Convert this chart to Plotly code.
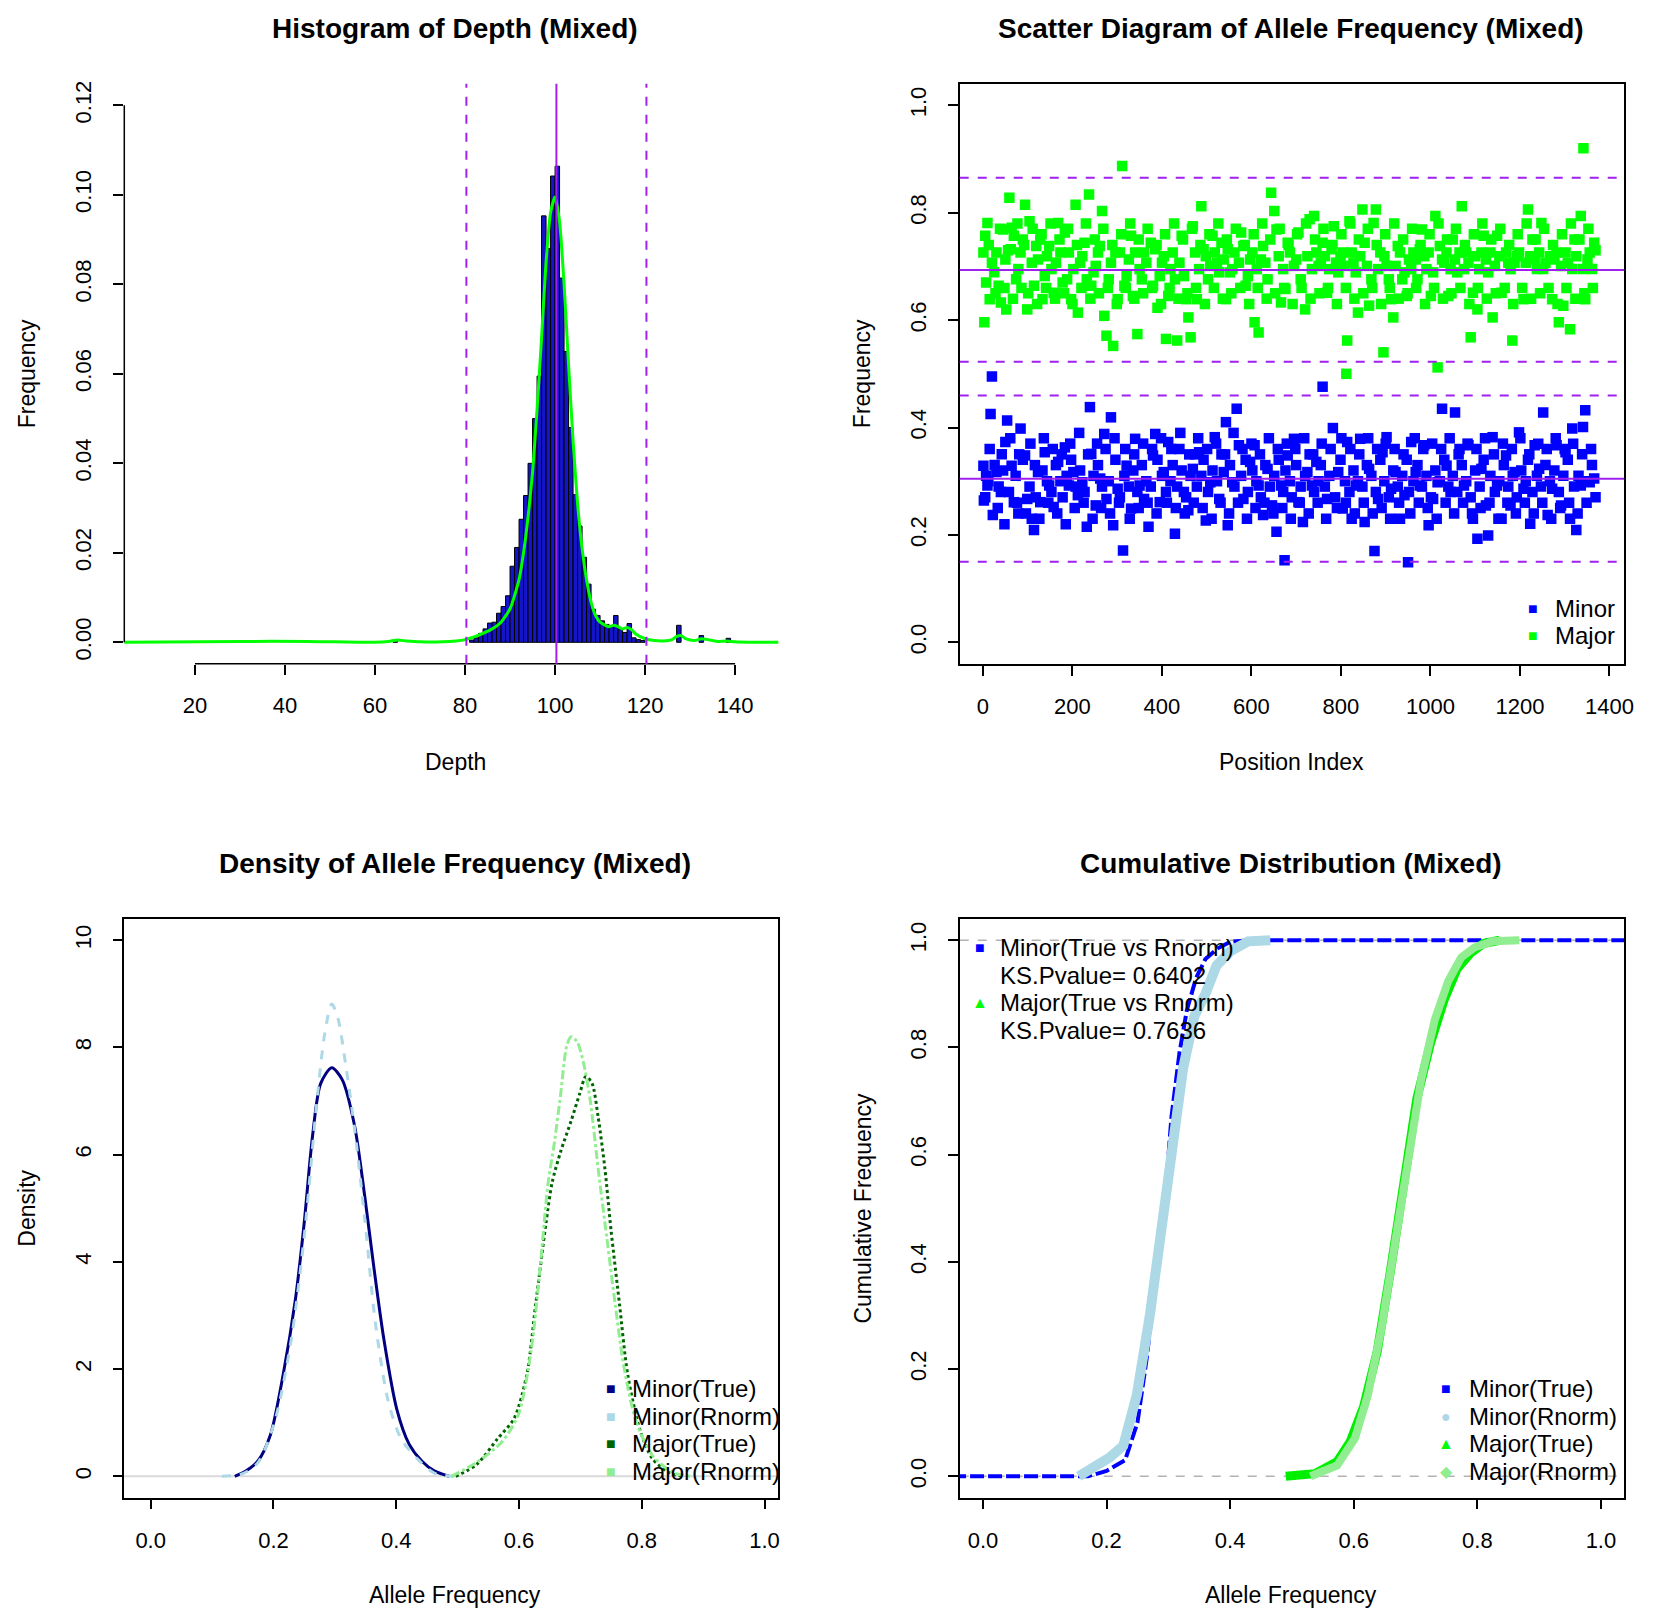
import plotly.graph_objects as go

W, H = 1654, 1620
OFF = 8  # page body margin of the written html
FONT = "Liberation Sans, Arial, Helvetica, sans-serif"
PURPLE = "#A020F0"

# ---------------- Histogram of Depth ----------------
depth_bin_left = [64, 81, 82, 83, 84, 85, 86, 87, 88, 89, 90, 91, 92, 93, 94, 95, 96, 97, 98, 99,
                  100, 101, 102, 103, 104, 105, 106, 107, 108, 109, 110, 111, 112, 113, 114, 115,
                  116, 117, 118, 119, 127, 132, 138]
depth_bin_freq = [0.0006, 0.0005, 0.001, 0.002, 0.003, 0.0043, 0.0045, 0.0065, 0.008, 0.0104,
                  0.017, 0.0212, 0.0275, 0.0328, 0.040, 0.050, 0.0595, 0.0953, 0.088, 0.1042,
                  0.1064, 0.0814, 0.065, 0.048, 0.033, 0.026, 0.019, 0.013, 0.0074, 0.006,
                  0.0048, 0.004, 0.0035, 0.006, 0.003, 0.0022, 0.0042, 0.001, 0.0006, 0.0004,
                  0.0038, 0.0015, 0.0009]
depth_dens_x = [4, 30, 45, 60, 63, 65, 67, 70, 75, 78, 80, 82, 84, 86, 88, 90, 92, 93, 94, 95,
                96, 97, 98, 99, 100, 101, 102, 103, 104, 105, 106, 107, 108, 109, 110, 112, 113,
                114, 115, 116, 117, 118, 120, 122, 124, 126, 127, 128, 129, 131, 132.5, 134, 136,
                138, 140, 143, 153]
depth_dens_y = [0, 0.0002, 0.0002, 0, 0.0002, 0.0005, 0.0003, 0.0001, 0.0001, 0.0003, 0.0006,
                0.0012, 0.002, 0.003, 0.0045, 0.0075, 0.014, 0.02, 0.028, 0.038, 0.052, 0.068,
                0.085, 0.096, 0.0995, 0.094, 0.080, 0.062, 0.045, 0.031, 0.021, 0.014, 0.009,
                0.006, 0.0045, 0.0035, 0.0038, 0.0035, 0.003, 0.0033, 0.0028, 0.0018, 0.0008,
                0.0004, 0.0003, 0.0006, 0.0013, 0.0015, 0.0008, 0.0004, 0.0008, 0.0006, 0.0002,
                0.0003, 0.0001, 0, 0]
depth_mean = 100.3
depth_cut = [80.3, 120.3]
depth_xticks = [20, 40, 60, 80, 100, 120, 140]
depth_yticks = [0, 0.02, 0.04, 0.06, 0.08, 0.10, 0.12]

# ---------------- Scatter of allele frequency ----------------
minor_pos = [1, 2, 10, 17, 20, 22, 30, 40, 50, 54, 64, 69, 79, 84, 94, 99, 109, 114, 123, 128,
             138, 148, 158, 168, 183, 192, 202, 212, 222, 232, 239, 242, 252, 262, 271, 276, 286,
             291, 301, 313, 321, 331, 340, 350, 360, 370, 380, 385, 395, 404, 414, 429, 439, 449,
             459, 469, 483, 498, 508, 518, 528, 538, 543, 547, 557, 567, 572, 582, 597, 607, 616,
             626, 636, 646, 656, 666, 674, 681, 695, 705, 715, 725, 735, 745, 759, 769, 782, 794,
             804, 814, 824, 833, 843, 853, 863, 875, 883, 893, 902, 912, 922, 932, 942, 950, 957,
             967, 976, 986, 996, 1006, 1016, 1026, 1036, 1045, 1055, 1065, 1075, 1085, 1095, 1105,
             1114, 1124, 1129, 1139, 1149, 1159, 1169, 1179, 1188, 1198, 1208, 1223, 1233, 1243,
             1252, 1262, 1272, 1282, 1292, 1302, 1312, 1317, 1326, 1336, 1341, 1346, 1356, 1366,
             7, 12, 26, 35, 45, 58, 73, 89, 104, 118, 133, 143, 153, 163, 173, 178, 187, 197, 207,
             217, 227, 247, 257, 266, 281, 296, 306, 316, 326, 336, 345, 355, 365, 375, 390, 400,
             409, 419, 424, 434, 444, 454, 464, 474, 478, 488, 493, 503, 513, 523, 533, 552, 562,
             577, 587, 592, 602, 611, 621, 631, 641, 651, 661, 671, 676, 686, 690, 700, 710, 720,
             730, 740, 750, 755, 764, 774, 787, 799, 809, 819, 828, 838, 848, 858, 868, 878, 888,
             897, 907, 917, 927, 937, 947, 952, 962, 971, 981, 991, 1001, 1011, 1021, 1031, 1040,
             1050, 1060, 1070, 1080, 1090, 1100, 1110, 1119, 1134, 1144, 1154, 1164, 1174, 1184,
             1193, 1203, 1213, 1218, 1228, 1238, 1247, 1257, 1267, 1277, 1287, 1297, 1307, 1321,
             1331, 1351, 1361,
             5, 15, 33, 42, 48, 61, 76, 81, 96, 106, 116, 126, 136, 146, 156, 166, 176, 185, 195,
             205, 215, 225, 235, 245, 255, 264, 274, 284, 294, 304, 318, 328, 338, 348, 358, 368,
             378, 388, 398, 411, 421, 431, 441, 451, 461, 471, 481, 491, 501, 511, 521, 531, 541,
             550, 560, 570, 580, 590, 600, 609, 619, 629, 639, 649, 659, 669, 679, 688, 698, 708,
             718, 728, 738, 748, 757, 767, 777, 791, 801, 811, 821, 831, 841, 851, 861, 871, 881,
             891, 900, 910, 920, 930, 940, 955, 965, 974, 984, 994, 1004, 1014, 1024, 1034, 1043,
             1053, 1063, 1073, 1083, 1093, 1103, 1112, 1122, 1132, 1142, 1152, 1162, 1172, 1182,
             1191, 1201, 1211, 1221, 1231, 1241, 1250, 1260, 1270, 1280, 1290, 1300, 1310, 1319,
             1329, 1339, 1349, 1359, 1369]
minor_af = [0.329, 0.264, 0.292, 0.425, 0.495, 0.237, 0.317, 0.280, 0.373, 0.413, 0.329, 0.261,
            0.240, 0.398, 0.348, 0.267, 0.230, 0.209, 0.317, 0.261, 0.354, 0.292, 0.252, 0.336,
            0.363, 0.292, 0.317, 0.274, 0.298, 0.215, 0.438, 0.351, 0.255, 0.305, 0.388, 0.267,
            0.419, 0.218, 0.286, 0.171, 0.329, 0.249, 0.379, 0.292, 0.267, 0.215, 0.348, 0.388,
            0.261, 0.317, 0.373, 0.202, 0.360, 0.280, 0.246, 0.323, 0.354, 0.227, 0.298, 0.382,
            0.267, 0.317, 0.410, 0.218, 0.298, 0.435, 0.367, 0.267, 0.336, 0.367, 0.292, 0.237,
            0.323, 0.255, 0.206, 0.292, 0.153, 0.348, 0.379, 0.261, 0.224, 0.317, 0.292, 0.336,
            0.476, 0.267, 0.399, 0.317, 0.249, 0.373, 0.230, 0.292, 0.379, 0.224, 0.323, 0.170,
            0.267, 0.354, 0.382, 0.286, 0.317, 0.230, 0.274, 0.149, 0.373, 0.317, 0.292, 0.367,
            0.218, 0.267, 0.298, 0.435, 0.329, 0.280, 0.428, 0.360, 0.292, 0.367, 0.230, 0.193,
            0.323, 0.255, 0.199, 0.382, 0.292, 0.230, 0.348, 0.255, 0.317, 0.391, 0.286, 0.221,
            0.367, 0.323, 0.428, 0.237, 0.286, 0.367, 0.255, 0.354, 0.230, 0.398, 0.209, 0.292,
            0.401, 0.432, 0.298, 0.305,
            0.31, 0.30, 0.33, 0.29, 0.32, 0.28, 0.31, 0.34, 0.29, 0.27, 0.32, 0.30, 0.28, 0.33,
            0.30, 0.27, 0.31, 0.34, 0.29, 0.32, 0.28, 0.31, 0.33, 0.29, 0.30, 0.34, 0.27, 0.31,
            0.29, 0.32, 0.28, 0.33, 0.30, 0.29, 0.34, 0.31, 0.28, 0.30, 0.33, 0.29, 0.32, 0.27,
            0.31, 0.35, 0.29, 0.31, 0.34, 0.28, 0.32, 0.30, 0.35, 0.33, 0.29, 0.31, 0.34, 0.28,
            0.32, 0.30, 0.27, 0.33, 0.29, 0.31, 0.34, 0.28, 0.32, 0.30, 0.27, 0.33, 0.29, 0.31,
            0.35, 0.28, 0.30, 0.33, 0.29, 0.31, 0.27, 0.34, 0.30, 0.28, 0.32, 0.30, 0.29, 0.33,
            0.31, 0.28, 0.34, 0.30, 0.27, 0.32, 0.29, 0.31, 0.34, 0.28, 0.30, 0.33, 0.29, 0.31,
            0.27, 0.32, 0.30, 0.34, 0.29, 0.31, 0.28, 0.33, 0.30, 0.27, 0.32, 0.29, 0.34, 0.31,
            0.28, 0.30, 0.33, 0.29, 0.31, 0.27, 0.32, 0.30, 0.34, 0.28, 0.31, 0.29, 0.33, 0.30,
            0.32, 0.28, 0.31, 0.34, 0.29, 0.31, 0.30, 0.33,
            0.27, 0.36, 0.25, 0.35, 0.22, 0.38, 0.26, 0.35, 0.24, 0.37, 0.33, 0.23, 0.38, 0.26,
            0.36, 0.24, 0.35, 0.22, 0.37, 0.25, 0.39, 0.26, 0.35, 0.23, 0.37, 0.25, 0.36, 0.24,
            0.38, 0.26, 0.36, 0.23, 0.35, 0.25, 0.37, 0.26, 0.36, 0.24, 0.38, 0.26, 0.36, 0.25,
            0.39, 0.24, 0.35, 0.26, 0.38, 0.25, 0.36, 0.23, 0.37, 0.26, 0.35, 0.24, 0.39, 0.26,
            0.36, 0.23, 0.37, 0.25, 0.35, 0.26, 0.38, 0.24, 0.36, 0.25, 0.37, 0.23, 0.36, 0.26,
            0.38, 0.24, 0.35, 0.26, 0.37, 0.23, 0.36, 0.25, 0.38, 0.26, 0.36, 0.24, 0.35, 0.26,
            0.38, 0.24, 0.36, 0.25, 0.37, 0.23, 0.36, 0.26, 0.35, 0.24, 0.38, 0.26, 0.36, 0.25,
            0.37, 0.23, 0.36, 0.26, 0.38, 0.24, 0.35, 0.26, 0.37, 0.24, 0.36, 0.25, 0.38, 0.26,
            0.35, 0.23, 0.37, 0.26, 0.36, 0.24, 0.38, 0.26, 0.35, 0.24, 0.37, 0.26, 0.36, 0.23,
            0.38, 0.25, 0.36, 0.26, 0.37, 0.24, 0.35, 0.26, 0.36, 0.27]

major_pos = [3, 5, 10, 15, 20, 30, 35, 40, 45, 52, 59, 64, 69, 74, 84, 94, 99, 104, 109, 114,
             119, 128, 133, 143, 153, 158, 168, 173, 183, 188, 197, 207, 212, 217, 227, 237, 242,
             247, 257, 266, 271, 276, 286, 291, 301, 306, 311, 316, 326, 331, 335, 345, 350, 360,
             375, 380, 390, 400, 409, 414, 424, 429, 434, 444, 454, 459, 464, 469, 478, 488, 493,
             503, 513, 523, 533, 543, 552, 562, 577, 587, 597, 607, 616, 626, 636, 644, 651, 656,
             666, 676, 681, 695, 705, 720, 730, 740, 750, 759, 769, 779, 784, 794, 804, 812, 814,
             819, 828, 838, 848, 853, 863, 868, 873, 878, 888, 895, 902, 912, 917, 927, 937, 947,
             952, 962, 971, 981, 991, 1001, 1011, 1016, 1021, 1031, 1040, 1050, 1060, 1070, 1080,
             1090, 1095, 1105, 1114, 1119, 1129, 1139, 1149, 1159, 1174, 1183, 1193, 1208, 1218,
             1228, 1238, 1248, 1257, 1272, 1282, 1287, 1297, 1312, 1317, 1322, 1336, 1342, 1346,
             1356, 1366,
             1, 25, 50, 62, 79, 89, 123, 138, 148, 163, 178, 192, 202, 222, 232, 252, 261, 281,
             296, 321, 340, 355, 365, 385, 395, 404, 419, 439, 449, 474, 483, 498, 508, 518, 528,
             538, 547, 557, 572, 582, 592, 602, 612, 621, 631, 661, 671, 686, 700, 710, 725, 735,
             745, 755, 764, 774, 789, 799, 809, 824, 833, 843, 858, 883, 897, 907, 922, 932, 942,
             957, 967, 976, 986, 996, 1006, 1026, 1036, 1045, 1055, 1065, 1075, 1085, 1100, 1109,
             1124, 1134, 1144, 1154, 1169, 1179, 1188, 1198, 1213, 1223, 1233, 1243, 1252, 1267,
             1277, 1292, 1302, 1307, 1326, 1341, 1351, 1361,
             7, 13, 28, 38, 48, 56, 67, 77, 86, 92, 101, 111, 121, 131, 141, 151, 161, 171, 181,
             190, 200, 210, 220, 230, 240, 250, 259, 269, 279, 289, 299, 309, 319, 329, 338, 348,
             358, 368, 378, 388, 398, 407, 417, 427, 437, 447, 457, 467, 476, 486, 496, 506, 516,
             526, 536, 545, 555, 565, 575, 585, 595, 605, 614, 624, 634, 642, 653, 663, 673, 683,
             692, 702, 712, 722, 732, 742, 752, 761, 771, 781, 791, 801, 811, 821, 830, 840, 850,
             860, 870, 880, 890, 899, 909, 919, 929, 939, 949, 959, 968, 978, 988, 998, 1008, 1018,
             1028, 1037, 1047, 1057, 1067, 1077, 1087, 1097, 1106, 1116, 1126, 1136, 1146, 1156,
             1166, 1176, 1185, 1195, 1205, 1215, 1225, 1235, 1245, 1254, 1264, 1274, 1284, 1294,
             1304, 1314, 1324, 1333, 1344, 1353, 1363, 1369]
major_af = [0.596, 0.757, 0.781, 0.639, 0.707, 0.726, 0.664, 0.633, 0.769, 0.620, 0.828, 0.772,
            0.757, 0.676, 0.726, 0.815, 0.620, 0.784, 0.707, 0.664, 0.738, 0.750, 0.639, 0.719,
            0.695, 0.651, 0.781, 0.726, 0.763, 0.676, 0.639, 0.815, 0.614, 0.707, 0.744, 0.834,
            0.664, 0.689, 0.726, 0.803, 0.608, 0.571, 0.707, 0.552, 0.639, 0.726, 0.887, 0.664,
            0.713, 0.757, 0.645, 0.574, 0.695, 0.726, 0.744, 0.664, 0.623, 0.707, 0.565, 0.645,
            0.726, 0.676, 0.562, 0.757, 0.639, 0.605, 0.568, 0.775, 0.639, 0.812, 0.732, 0.676,
            0.757, 0.707, 0.744, 0.639, 0.689, 0.726, 0.763, 0.664, 0.713, 0.596, 0.577, 0.738,
            0.676, 0.837, 0.803, 0.769, 0.633, 0.658, 0.744, 0.701, 0.763, 0.620, 0.788, 0.794,
            0.701, 0.744, 0.651, 0.732, 0.775, 0.689, 0.726, 0.500, 0.562, 0.784, 0.707, 0.614,
            0.806, 0.744, 0.627, 0.676, 0.781, 0.806, 0.726, 0.540, 0.701, 0.639, 0.605, 0.738,
            0.676, 0.645, 0.713, 0.726, 0.676, 0.769, 0.695, 0.645, 0.794, 0.512, 0.738, 0.707,
            0.645, 0.750, 0.689, 0.812, 0.726, 0.568, 0.651, 0.620, 0.726, 0.757, 0.689, 0.605,
            0.757, 0.651, 0.707, 0.562, 0.719, 0.639, 0.806, 0.750, 0.695, 0.781, 0.707, 0.639,
            0.726, 0.596, 0.627, 0.583, 0.695, 0.750, 0.794, 0.920, 0.639, 0.726, 0.744,
            0.726, 0.689, 0.713, 0.732, 0.695, 0.750, 0.713, 0.682, 0.738, 0.707, 0.670, 0.726,
            0.695, 0.719, 0.676, 0.701, 0.738, 0.676, 0.726, 0.682, 0.726, 0.676, 0.707, 0.732,
            0.682, 0.719, 0.695, 0.707, 0.682, 0.726, 0.695, 0.719, 0.701, 0.726, 0.689, 0.713,
            0.732, 0.695, 0.707, 0.738, 0.682, 0.726, 0.695, 0.713, 0.707, 0.719, 0.695, 0.726,
            0.713, 0.676, 0.719, 0.695, 0.726, 0.707, 0.719, 0.695, 0.707, 0.719, 0.701, 0.726,
            0.689, 0.719, 0.701, 0.695, 0.719, 0.676, 0.701, 0.726, 0.689, 0.695, 0.713, 0.732,
            0.719, 0.726, 0.689, 0.713, 0.726, 0.695, 0.713, 0.726, 0.695, 0.707, 0.719, 0.695,
            0.713, 0.726, 0.701, 0.719, 0.726, 0.695, 0.707, 0.726, 0.707, 0.719, 0.713, 0.726,
            0.695, 0.719, 0.713, 0.701, 0.726, 0.707, 0.719, 0.695, 0.713, 0.695,
            0.67, 0.74, 0.65, 0.77, 0.66, 0.73, 0.64, 0.78, 0.66, 0.74, 0.65, 0.77, 0.63, 0.76,
            0.66, 0.78, 0.64, 0.75, 0.65, 0.77, 0.63, 0.74, 0.66, 0.78, 0.64, 0.75, 0.65, 0.77,
            0.66, 0.74, 0.63, 0.76, 0.66, 0.78, 0.64, 0.75, 0.65, 0.77, 0.66, 0.74, 0.63, 0.76,
            0.66, 0.78, 0.64, 0.75, 0.65, 0.77, 0.66, 0.74, 0.63, 0.76, 0.66, 0.78, 0.64, 0.75,
            0.65, 0.77, 0.66, 0.74, 0.63, 0.76, 0.66, 0.78, 0.64, 0.75, 0.65, 0.77, 0.66, 0.74,
            0.63, 0.76, 0.66, 0.78, 0.64, 0.75, 0.65, 0.77, 0.66, 0.74, 0.63, 0.76, 0.66, 0.78,
            0.64, 0.75, 0.65, 0.77, 0.66, 0.74, 0.63, 0.76, 0.66, 0.78, 0.64, 0.75, 0.65, 0.77,
            0.66, 0.74, 0.63, 0.76, 0.66, 0.78, 0.64, 0.75, 0.65, 0.77, 0.66, 0.74, 0.63, 0.76,
            0.66, 0.78, 0.64, 0.75, 0.65, 0.77, 0.66, 0.74, 0.63, 0.76, 0.66, 0.78, 0.64, 0.75,
            0.65, 0.77, 0.66, 0.74, 0.63, 0.76, 0.66, 0.78, 0.64, 0.75, 0.65, 0.77, 0.66, 0.73]
minor_mean, minor_cut = 0.3046, [0.1498, 0.4594]
major_mean, major_cut = 0.6935, [0.5225, 0.865]

# ---------------- Density of allele frequency ----------------
dens_minor_true_x = [0.137, 0.155, 0.175, 0.195, 0.216, 0.236, 0.25, 0.264, 0.277, 0.295, 0.312,
                     0.332, 0.349, 0.363, 0.380, 0.401, 0.421, 0.442, 0.462, 0.486]
dens_minor_true_y = [0, 0.1, 0.29, 0.77, 1.91, 3.32, 4.72, 6.38, 7.33, 7.62, 7.40, 6.55, 5.2,
                     3.95, 2.55, 1.25, 0.6, 0.28, 0.1, 0]
dens_minor_rnorm_x = [0.116, 0.150, 0.175, 0.202, 0.229, 0.25, 0.271, 0.284, 0.295, 0.305, 0.318,
                      0.332, 0.349, 0.366, 0.387, 0.408, 0.435, 0.462, 0.497]
dens_minor_rnorm_y = [0, 0.05, 0.26, 1.02, 2.55, 4.46, 7.02, 8.29, 8.81, 8.55, 7.65, 6.5, 4.78,
                      2.87, 1.40, 0.70, 0.32, 0.06, 0]
dens_major_true_x = [0.497, 0.531, 0.565, 0.592, 0.613, 0.627, 0.644, 0.654, 0.668, 0.685, 0.699,
                     0.709, 0.719, 0.729, 0.740, 0.750, 0.764, 0.777, 0.798, 0.818, 0.846, 0.866]
dens_major_true_y = [0, 0.22, 0.70, 1.08, 1.91, 3.19, 4.72, 5.48, 6.06, 6.63, 7.14, 7.46, 7.33,
                     6.70, 5.74, 4.59, 3.19, 1.91, 0.83, 0.32, 0.06, 0]
dens_major_rnorm_x = [0.49, 0.531, 0.572, 0.599, 0.62, 0.634, 0.647, 0.658, 0.668, 0.678, 0.685,
                      0.695, 0.705, 0.716, 0.729, 0.743, 0.757, 0.771, 0.791, 0.818, 0.853, 0.88]
dens_major_rnorm_y = [0, 0.26, 0.64, 1.15, 2.36, 3.83, 5.42, 6.25, 7.14, 8.04, 8.2, 8.1, 7.72,
                      7.02, 5.74, 4.46, 3.19, 2.04, 1.02, 0.38, 0.06, 0]

# ---------------- Cumulative distribution ----------------
cdf_minor_true_x = [-0.05, 0.17, 0.20, 0.23, 0.25, 0.265, 0.28, 0.295, 0.305, 0.318, 0.33, 0.345,
                    0.36, 0.38, 0.40, 0.432, 1.05]
cdf_minor_true_y = [0, 0, 0.01, 0.03, 0.10, 0.22, 0.37, 0.52, 0.67, 0.79, 0.87, 0.93, 0.965,
                    0.985, 0.997, 1.0, 1.0]
cdf_minor_rnorm_x = [0.155, 0.176, 0.205, 0.227, 0.249, 0.270, 0.288, 0.306, 0.324, 0.342, 0.360,
                     0.378, 0.40, 0.429, 0.465]
cdf_minor_rnorm_y = [0, 0.0125, 0.035, 0.057, 0.152, 0.30, 0.446, 0.60, 0.762, 0.858, 0.90,
                     0.953, 0.979, 0.998, 1.0]
cdf_major_true_x = [0.49, 0.537, 0.573, 0.594, 0.616, 0.638, 0.659, 0.681, 0.702, 0.724, 0.746,
                    0.767, 0.789, 0.81, 0.836]
cdf_major_true_y = [0, 0.005, 0.027, 0.064, 0.13, 0.233, 0.38, 0.557, 0.704, 0.807, 0.888, 0.946,
                    0.976, 0.994, 1.0]
cdf_major_rnorm_x = [0.53, 0.573, 0.602, 0.623, 0.645, 0.666, 0.688, 0.709, 0.731, 0.753, 0.774,
                     0.796, 0.825, 0.868]
cdf_major_rnorm_y = [0, 0.02, 0.071, 0.152, 0.277, 0.432, 0.60, 0.74, 0.851, 0.924, 0.968, 0.987,
                     0.998, 1.0]
ks_minor, ks_major = 0.6402, 0.7636

# ---------------- layout helpers (pixel boxes of the reference) ----------------
def px_x(p):
    return (p - OFF) / W


def px_y(p):
    return 1 - (p - OFF) / H


LX = [px_x(125), px_x(783)]
RX = [px_x(965.5), px_x(1634)]
TY = [px_y(662), px_y(81)]
BY = [px_y(1497.5), px_y(917.5)]

tickfont = dict(family=FONT, size=22, color="black")


def axis(domain, rng, tickvals, ticktext=None, boxed=True, vertical=False, anchor=None):
    d = dict(domain=domain, range=rng, tickvals=tickvals, ticks="outside", ticklen=10,
             tickwidth=1.5, tickcolor="black", tickfont=tickfont, showgrid=False,
             zeroline=False, ticklabelstandoff=12, anchor=anchor)
    if ticktext is not None:
        d["ticktext"] = ticktext
    if boxed:
        d.update(showline=True, linecolor="black", linewidth=1.5, mirror=True)
    else:
        d.update(showline=False)
    if vertical:
        d["tickangle"] = -90
        d["ticklabelstandoff"] = 13
    return d


def note(xp, yp, s, size=23, angle=0, xanchor="center", color="black"):
    return dict(x=px_x(xp), y=px_y(yp), xref="paper", yref="paper", text=s, showarrow=False,
                font=dict(family=FONT, size=size, color=color), textangle=angle,
                xanchor=xanchor, yanchor="middle")


fig = go.Figure()

# panel 1: histogram
fig.add_trace(go.Bar(x=depth_bin_left, y=depth_bin_freq, width=1, offset=0,
                     marker=dict(color="#1414C8", line=dict(color="black", width=1)),
                     xaxis="x", yaxis="y", showlegend=False))
fig.add_trace(go.Scatter(x=depth_dens_x, y=depth_dens_y, mode="lines",
                         line=dict(color="#00FF00", width=3, shape="spline", smoothing=0.6),
                         xaxis="x", yaxis="y", showlegend=False))

# panel 2: scatter
fig.add_trace(go.Scatter(x=minor_pos, y=minor_af, mode="markers",
                         marker=dict(symbol="square", size=10.5, color="#0000FF"),
                         xaxis="x2", yaxis="y2", showlegend=False))
fig.add_trace(go.Scatter(x=major_pos, y=major_af, mode="markers",
                         marker=dict(symbol="square", size=10.5, color="#00FF00"),
                         xaxis="x2", yaxis="y2", showlegend=False))

# panel 3: density
for xs, ys, col, dash in [(dens_minor_true_x, dens_minor_true_y, "#000080", "solid"),
                          (dens_minor_rnorm_x, dens_minor_rnorm_y, "#ADD8E6", "dash"),
                          (dens_major_true_x, dens_major_true_y, "#006400", "dot"),
                          (dens_major_rnorm_x, dens_major_rnorm_y, "#90EE90", "dashdot")]:
    fig.add_trace(go.Scatter(x=xs, y=ys, mode="lines",
                             line=dict(color=col, width=3, dash=dash, shape="spline",
                                       smoothing=0.8),
                             xaxis="x3", yaxis="y3", showlegend=False))

# panel 4: cumulative (true curves underneath the rnorm bands)
for xs, ys, col, wid, dash in [(cdf_minor_true_x, cdf_minor_true_y, "#0000FF", 4, "14px,4px"),
                               (cdf_minor_rnorm_x, cdf_minor_rnorm_y, "#ADD8E6", 10, "solid"),
                               (cdf_major_true_x, cdf_major_true_y, "#00EE00", 9, "solid"),
                               (cdf_major_rnorm_x, cdf_major_rnorm_y, "#90EE90", 8, "solid")]:
    fig.add_trace(go.Scatter(x=xs, y=ys, mode="lines", line=dict(color=col, width=wid, dash=dash),
                             xaxis="x4", yaxis="y4", showlegend=False))

shapes = [
    # histogram axis lines (only across the tick range)
    dict(type="line", xref="x", yref="paper", x0=depth_xticks[0], x1=depth_xticks[-1],
         y0=TY[0], y1=TY[0], line=dict(color="black", width=1.5)),
    dict(type="line", xref="paper", yref="y", x0=LX[0], x1=LX[0], y0=depth_yticks[0],
         y1=depth_yticks[-1], line=dict(color="black", width=1.5)),
    dict(type="line", xref="x", yref="y domain", x0=depth_mean, x1=depth_mean, y0=0, y1=1,
         line=dict(color=PURPLE, width=2)),
]
for c in depth_cut:
    shapes.append(dict(type="line", xref="x", yref="y domain", x0=c, x1=c, y0=0, y1=1,
                       line=dict(color=PURPLE, width=2, dash="dash")))
for m in [minor_mean, major_mean]:
    shapes.append(dict(type="line", xref="x2 domain", yref="y2", x0=0, x1=1, y0=m, y1=m,
                       line=dict(color=PURPLE, width=2)))
for c in minor_cut + major_cut:
    shapes.append(dict(type="line", xref="x2 domain", yref="y2", x0=0, x1=1, y0=c, y1=c,
                       line=dict(color=PURPLE, width=2, dash="dash")))
shapes.append(dict(type="line", xref="x3 domain", yref="y3", x0=0, x1=1, y0=0, y1=0,
                   layer="below", line=dict(color="#D9D9D9", width=2)))
for v in [0, 1]:
    shapes.append(dict(type="line", xref="x4 domain", yref="y4", x0=0, x1=1, y0=v, y1=v,
                       layer="below", line=dict(color="#B3B3B3", width=1.5, dash="dash")))

ann = [
    note(458, 26, "<b>Histogram of Depth (Mixed)</b>", size=28),
    note(1299, 26, "<b>Scatter Diagram of Allele Frequency (Mixed)</b>", size=28),
    note(458, 862, "<b>Density of Allele Frequency (Mixed)</b>", size=28),
    note(1299, 862, "<b>Cumulative Distribution (Mixed)</b>", size=28),
    note(458, 760, "Depth"),
    note(1299, 760, "Position Index"),
    note(458, 1595, "Allele Frequency"),
    note(1299, 1595, "Allele Frequency"),
    note(27, 371, "Frequency", angle=-90),
    note(868, 371, "Frequency", angle=-90),
    note(27, 1207, "Density", angle=-90),
    note(868, 1207, "Cumulative Frequency", angle=-90),
]

# legends drawn as glyph + text
scatter_leg = [("■", "#0000FF", "Minor"), ("■", "#00FF00", "Major")]
for i, (g, col, lab) in enumerate(scatter_leg):
    yy = 607 + i * 27
    ann.append(note(1542, yy, g, size=16, color=col))
    ann.append(note(1562, yy, lab, size=24, xanchor="left"))

dens_leg = [("■", "#000080", "Minor(True)"), ("■", "#ADD8E6", "Minor(Rnorm)"),
            ("■", "#006400", "Major(True)"), ("■", "#90EE90", "Major(Rnorm)")]
for i, (g, col, lab) in enumerate(dens_leg):
    yy = 1388 + i * 27.7
    ann.append(note(615, yy, g, size=16, color=col))
    ann.append(note(634, yy, lab, size=24, xanchor="left"))

cdf_leg = [("■", "#0000FF", "Minor(True)"), ("●", "#ADD8E6", "Minor(Rnorm)"),
           ("▲", "#00FF00", "Major(True)"), ("◆", "#90EE90", "Major(Rnorm)")]
for i, (g, col, lab) in enumerate(cdf_leg):
    yy = 1388 + i * 27.7
    ann.append(note(1455, yy, g, size=16, color=col))
    ann.append(note(1476, yy, lab, size=24, xanchor="left"))

ks_leg = [("■", "#0000FF", "Minor(True vs Rnorm)", "KS.Pvalue= %.4f" % ks_minor),
          ("▲", "#00FF00", "Major(True vs Rnorm)", "KS.Pvalue= %.4f" % ks_major)]
for i, (g, col, lab, ks) in enumerate(ks_leg):
    yy = 946 + i * 55
    ann.append(note(986, yy, g, size=16, color=col))
    ann.append(note(1004, yy, lab, size=24, xanchor="left"))
    ann.append(note(1004, yy + 28, ks, size=24, xanchor="left"))

fig.update_layout(
    width=W, height=H, margin=dict(l=0, r=0, t=0, b=0),
    paper_bgcolor="white", plot_bgcolor="white", showlegend=False,
    xaxis=axis(LX, [4.3, 149.6], depth_xticks, boxed=False, anchor="y"),
    yaxis=axis(TY, [-0.0048, 0.1248], depth_yticks, ["%.2f" % v for v in depth_yticks],
               boxed=False, vertical=True, anchor="x"),
    xaxis2=axis(RX, [-52, 1433], [0, 200, 400, 600, 800, 1000, 1200, 1400], anchor="y2"),
    yaxis2=axis(TY, [-0.04, 1.04], [0, 0.2, 0.4, 0.6, 0.8, 1.0],
                ["0.0", "0.2", "0.4", "0.6", "0.8", "1.0"], vertical=True, anchor="x2"),
    xaxis3=axis(LX, [-0.043, 1.0225], [0, 0.2, 0.4, 0.6, 0.8, 1.0],
                ["0.0", "0.2", "0.4", "0.6", "0.8", "1.0"], anchor="y3"),
    yaxis3=axis(BY, [-0.4, 10.4], [0, 2, 4, 6, 8, 10], vertical=True, anchor="x3"),
    xaxis4=axis(RX, [-0.0376, 1.0376], [0, 0.2, 0.4, 0.6, 0.8, 1.0],
                ["0.0", "0.2", "0.4", "0.6", "0.8", "1.0"], anchor="y4"),
    yaxis4=axis(BY, [-0.04, 1.04], [0, 0.2, 0.4, 0.6, 0.8, 1.0],
                ["0.0", "0.2", "0.4", "0.6", "0.8", "1.0"], vertical=True, anchor="x4"),
    shapes=shapes, annotations=ann,
)

fig.write_html("out.html")
